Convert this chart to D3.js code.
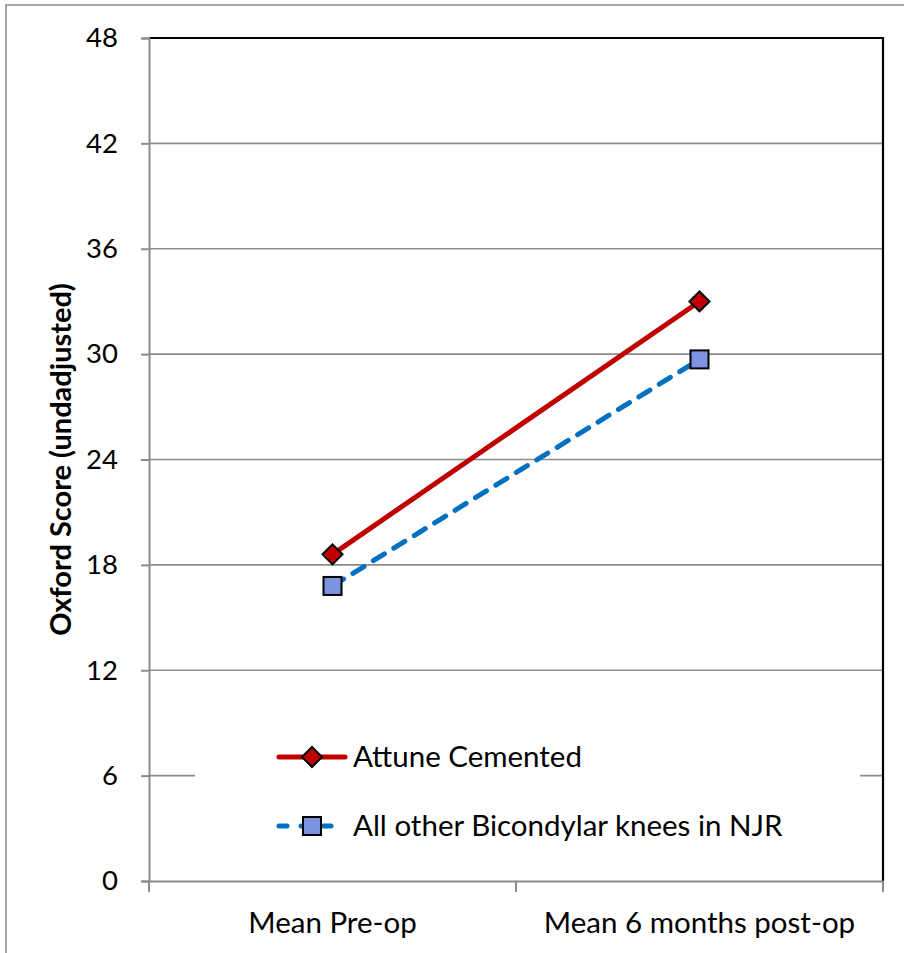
<!DOCTYPE html>
<html><head><meta charset="utf-8">
<script src="https://cdn.jsdelivr.net/npm/d3@7"></script>
<style>body{margin:0;background:#fff;} svg{display:block;}</style>
</head><body>
<script>
const categories = ["Mean Pre-op", "Mean 6 months post-op"];
const seriesNames = ["Attune Cemented", "All other Bicondylar knees in NJR"];
const attuneValues = [18.6, 33.0];
const otherValues = [16.8, 29.7];
const yTicks = [0, 6, 12, 18, 24, 30, 36, 42, 48];
const yTitle = "Oxford Score (undadjusted)";

const W = 904, H = 953;
const FONT = "Lato, 'Open Sans', sans-serif";
const svg = d3.select("body").append("svg").attr("width", W).attr("height", H);

// outer chart border
svg.append("rect").attr("x", 6).attr("y", 5).attr("width", 960).attr("height", 1000)
  .attr("fill", "#fff").attr("stroke", "#a6a6a6").attr("stroke-width", 2);

const L = 149, R = 883, T = 38, B = 881;
const x = d3.scaleBand().domain(categories).range([L, R]);
const y = d3.scaleLinear().domain([0, 48]).range([B, T]);

// gridlines
svg.append("g").selectAll("line").data(yTicks.filter(t => t > 0 && t < 48)).join("line")
  .attr("x1", L).attr("x2", R).attr("y1", d => y(d)).attr("y2", d => y(d))
  .attr("stroke", "#8c8c8c").attr("stroke-width", 1.6);

// top & right frame
svg.append("path").attr("d", `M${L},${T}H${R}V${B}`).attr("fill", "none")
  .attr("stroke", "#000").attr("stroke-width", 2.2);

// y axis
const yAxis = d3.axisLeft(y).tickValues(yTicks).tickSize(8).tickPadding(23).tickFormat(d3.format("d"));
const gy = svg.append("g").attr("transform", `translate(${L},0)`).call(yAxis);
gy.select(".domain").attr("stroke", "#8c8c8c").attr("stroke-width", 2);
gy.selectAll(".tick line").attr("stroke", "#8c8c8c").attr("stroke-width", 2);
gy.selectAll("text").attr("font-family", FONT).attr("font-size", 27.5).attr("fill", "#000");

// x axis
const xAxis = d3.axisBottom(x).tickSize(0).tickPadding(31);
const gx = svg.append("g").attr("transform", `translate(0,${B})`).call(xAxis);
gx.select(".domain").attr("stroke", "#8c8c8c").attr("stroke-width", 2);
gx.selectAll("text").attr("font-family", FONT).attr("font-size", 29.5).attr("fill", "#000");
// category boundary ticks
const bounds = [L, ...categories.slice(1).map(c => x(c)), R];
svg.append("g").selectAll("line").data(bounds).join("line")
  .attr("x1", d => d).attr("x2", d => d).attr("y1", B).attr("y2", B + 11)
  .attr("stroke", "#8c8c8c").attr("stroke-width", 2);

// y title
svg.append("text").attr("transform", `translate(71,${(T + B) / 2}) rotate(-90)`)
  .attr("text-anchor", "middle").attr("font-family", FONT).attr("font-weight", "bold")
  .attr("font-size", 29).attr("fill", "#000").text(yTitle);

const cx = c => x(c) + x.bandwidth() / 2;
const line = d3.line().x(d => cx(d.c)).y(d => y(d.v));
const attune = categories.map((c, i) => ({c, v: attuneValues[i]}));
const other = categories.map((c, i) => ({c, v: otherValues[i]}));

const RED = "#c00000", BLUE = "#0070c0", SQ = "#7b93e0";

svg.append("path").datum(other).attr("d", line).attr("fill", "none")
  .attr("stroke", BLUE).attr("stroke-width", 5).attr("stroke-dasharray", "13,11")
  .attr("stroke-linecap", "round");
svg.append("path").datum(attune).attr("d", line).attr("fill", "none")
  .attr("stroke", RED).attr("stroke-width", 5);

function diamond(g, px, py) {
  g.append("path").attr("d", `M${px},${py - 10}L${px + 10},${py}L${px},${py + 10}L${px - 10},${py}Z`)
    .attr("fill", RED).attr("stroke", "#000").attr("stroke-width", 2);
}
function square(g, px, py) {
  g.append("rect").attr("x", px - 9).attr("y", py - 9).attr("width", 18).attr("height", 18)
    .attr("fill", SQ).attr("stroke", "#000").attr("stroke-width", 2);
}
const mg = svg.append("g");
other.forEach(d => square(mg, cx(d.c), y(d.v)));
attune.forEach(d => diamond(mg, cx(d.c), y(d.v)));

// legend
const lg = svg.append("g");
lg.append("rect").attr("x", 195).attr("y", 718).attr("width", 665).attr("height", 145).attr("fill", "#fff");
const rows = [757, 826];
lg.append("line").attr("x1", 279).attr("x2", 345).attr("y1", rows[0]).attr("y2", rows[0])
  .attr("stroke", RED).attr("stroke-width", 5).attr("stroke-linecap", "round");
diamond(lg, 312, rows[0]);
lg.append("line").attr("x1", 279).attr("x2", 345).attr("y1", rows[1]).attr("y2", rows[1])
  .attr("stroke", BLUE).attr("stroke-width", 5).attr("stroke-dasharray", "8,14")
  .attr("stroke-linecap", "round");
square(lg, 312, rows[1]);
seriesNames.forEach((n, i) => {
  lg.append("text").attr("x", 353).attr("y", rows[i]).attr("dy", "0.35em")
    .attr("font-family", FONT).attr("font-size", 29.5).attr("fill", "#000").text(n);
});
</script>
</body></html>
